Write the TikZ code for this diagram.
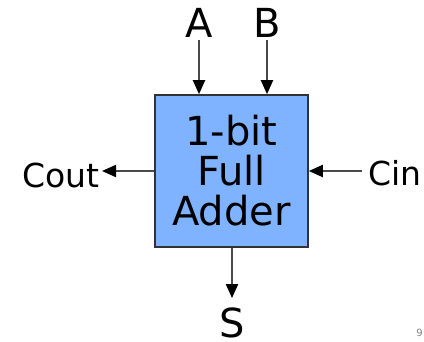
\documentclass[tikz,border=0pt]{standalone}
\usepackage{fontspec}
\setsansfont{DejaVu Sans}
\usetikzlibrary{arrows.meta}
\definecolor{boxblue}{HTML}{80B3FF}
\definecolor{edge}{HTML}{333333}
\definecolor{wire}{HTML}{4A4A4A}
\tikzset{
  adderbox/.style={draw=edge, line width=1.6pt, fill=boxblue, minimum width=153pt, minimum height=152pt, inner sep=0pt, align=center, font=\sffamily\fontsize{40}{40}\selectfont},
  biglabel/.style={inner sep=0pt, font=\sffamily\fontsize{40}{40}\selectfont},
  sidelabel/.style={inner sep=0pt, font=\sffamily\fontsize{33}{33}\selectfont},
  wirearrow/.style={draw=wire, line width=2pt, -{Triangle[length=14pt,width=12pt,color=black]}}
}
\begin{document}
\begin{tikzpicture}[x=1pt,y=-1pt]
\useasboundingbox (0,0) rectangle (424,341);
\node[adderbox] (box) at (231.5,171) {1-bit\\Full\\Adder};
\node[biglabel, anchor=base] (A) at (199,37) {A};
\node[biglabel, anchor=base] (B) at (267,37) {B};
\node[biglabel, anchor=base] (S) at (232,337) {S};
\node[sidelabel, anchor=base east] (Cout) at (100,187) {Cout};
\node[sidelabel, anchor=base west] (Cin) at (368,185) {Cin};
\node[inner sep=0pt, text=gray, font=\sffamily\fontsize{10}{10}\selectfont, anchor=base east] (mark) at (423,336) {9};
\draw[wirearrow, shorten <=3pt] (A.south) -- (A.south |- box.north);
\draw[wirearrow, shorten <=3pt] (B.south) -- (B.south |- box.north);
\draw[wirearrow] (box.west) -- ([xshift=2pt]Cout.east |- box.west);
\draw[wirearrow, shorten <=6pt] (Cin.west |- box.east) -- (box.east);
\draw[wirearrow, shorten >=9pt] (box.south -| S.north) -- (S.north);
\end{tikzpicture}
\end{document}
